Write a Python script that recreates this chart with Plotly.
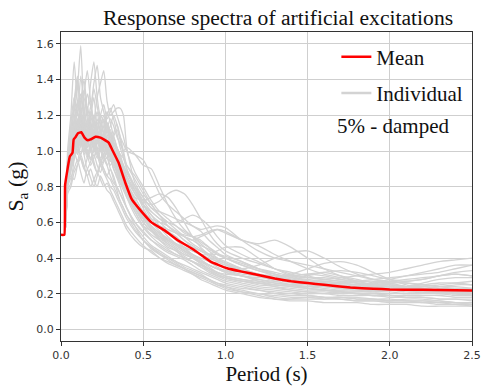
import plotly.graph_objects as go

# ---------------- data ----------------
periods = [0.0, 0.02, 0.04, 0.06, 0.08, 0.10, 0.12, 0.14, 0.16, 0.18, 0.20, 0.22, 0.24, 0.26,
           0.28, 0.30, 0.32, 0.34, 0.36, 0.38, 0.40, 0.45, 0.50, 0.55, 0.60, 0.65, 0.70, 0.75,
           0.80, 0.85, 0.90, 0.95, 1.00, 1.10, 1.20, 1.30, 1.40, 1.50, 1.60, 1.70, 1.80, 1.90,
           2.00, 2.10, 2.20, 2.30, 2.40, 2.50]

ind01 = [0.53,0.53,0.95,1.10,1.22,1.35,1.59,1.20,1.05,1.18,1.30,1.12,1.00,1.08,0.98,0.92,0.95,0.88,0.82,0.80,0.76,0.66,0.58,0.55,0.50,0.46,0.44,0.40,0.38,0.36,0.33,0.30,0.29,0.27,0.25,0.24,0.22,0.21,0.20,0.21,0.20,0.19,0.19,0.18,0.18,0.17,0.17,0.16]
ind02 = [0.53,0.53,0.85,0.92,1.00,1.05,1.12,1.20,1.32,1.25,1.38,1.48,1.30,1.22,1.15,1.10,1.05,1.02,0.98,0.92,0.88,0.80,0.72,0.66,0.62,0.58,0.55,0.52,0.50,0.47,0.45,0.42,0.40,0.36,0.33,0.31,0.29,0.28,0.27,0.26,0.25,0.24,0.24,0.23,0.23,0.24,0.25,0.25]
ind03 = [0.53,0.53,0.80,0.85,0.90,0.95,0.88,0.82,0.90,0.85,0.80,0.86,0.92,0.88,0.84,0.80,0.78,0.74,0.70,0.66,0.62,0.55,0.50,0.45,0.42,0.39,0.36,0.34,0.32,0.30,0.28,0.26,0.25,0.23,0.22,0.20,0.19,0.19,0.18,0.18,0.17,0.17,0.16,0.16,0.16,0.15,0.15,0.14]
ind04 = [0.53,0.53,0.90,1.00,1.12,1.08,1.15,1.02,1.10,1.25,1.18,1.30,1.38,1.45,1.28,1.20,1.22,1.24,1.24,1.20,1.02,0.82,0.74,0.68,0.64,0.60,0.58,0.54,0.52,0.50,0.46,0.42,0.40,0.37,0.34,0.32,0.30,0.29,0.29,0.28,0.27,0.27,0.26,0.27,0.28,0.30,0.32,0.33]
ind05 = [0.53,0.53,0.88,1.05,1.25,1.40,1.18,1.10,1.00,0.95,1.02,0.98,0.92,0.95,1.00,0.96,0.90,0.85,0.80,0.74,0.68,0.60,0.55,0.50,0.47,0.44,0.42,0.40,0.38,0.35,0.32,0.30,0.28,0.26,0.24,0.23,0.22,0.21,0.21,0.20,0.20,0.19,0.20,0.20,0.21,0.21,0.20,0.19]
ind06 = [0.53,0.53,0.92,0.95,1.02,1.00,0.98,1.04,1.00,0.96,1.00,1.05,1.10,1.02,1.08,1.12,1.05,1.00,0.96,0.92,0.88,0.80,0.74,0.68,0.66,0.64,0.62,0.60,0.58,0.56,0.57,0.58,0.57,0.50,0.44,0.40,0.38,0.36,0.34,0.32,0.30,0.28,0.27,0.26,0.25,0.24,0.24,0.23]
ind07 = [0.53,0.53,0.86,1.15,1.30,1.20,1.42,1.25,1.12,1.05,1.10,1.00,0.95,1.02,1.05,0.98,0.94,0.90,0.86,0.82,0.78,0.70,0.62,0.56,0.52,0.48,0.45,0.42,0.40,0.37,0.34,0.32,0.31,0.30,0.28,0.26,0.25,0.24,0.23,0.22,0.22,0.21,0.21,0.20,0.20,0.20,0.19,0.19]
ind08 = [0.53,0.53,0.78,0.82,0.95,1.02,1.08,0.98,0.90,0.94,0.98,0.92,0.88,0.94,0.96,0.90,0.86,0.80,0.76,0.72,0.68,0.58,0.50,0.46,0.42,0.40,0.38,0.35,0.33,0.31,0.28,0.25,0.23,0.21,0.20,0.18,0.17,0.17,0.17,0.18,0.18,0.17,0.16,0.16,0.15,0.15,0.14,0.14]
ind09 = [0.53,0.53,1.00,1.20,1.50,1.28,1.22,1.30,1.18,1.10,1.15,1.22,1.08,1.00,1.04,1.10,1.02,0.98,0.94,0.90,0.84,0.76,0.70,0.64,0.58,0.55,0.52,0.48,0.46,0.44,0.42,0.40,0.38,0.34,0.31,0.29,0.28,0.27,0.26,0.26,0.25,0.26,0.27,0.28,0.29,0.30,0.31,0.30]
ind10 = [0.53,0.53,0.84,0.90,0.96,1.12,1.05,1.00,1.08,1.15,1.05,0.98,1.02,1.10,1.05,1.00,1.08,1.12,1.06,0.98,0.90,0.78,0.68,0.60,0.55,0.50,0.48,0.46,0.44,0.42,0.40,0.38,0.36,0.34,0.36,0.40,0.43,0.44,0.40,0.35,0.31,0.28,0.26,0.24,0.23,0.22,0.21,0.20]
ind11 = [0.53,0.53,0.90,0.98,1.08,1.18,1.02,1.12,1.25,1.15,1.08,1.12,1.18,1.10,1.02,0.98,0.95,0.92,0.88,0.84,0.80,0.72,0.64,0.58,0.54,0.50,0.47,0.44,0.41,0.38,0.36,0.34,0.33,0.31,0.30,0.28,0.27,0.27,0.28,0.29,0.30,0.31,0.32,0.34,0.36,0.38,0.39,0.40]
ind12 = [0.53,0.53,0.82,0.95,1.05,1.00,1.20,1.08,1.02,1.12,1.20,1.10,1.02,0.96,1.00,1.05,1.10,1.15,1.08,1.00,0.92,0.86,0.78,0.70,0.64,0.58,0.54,0.50,0.47,0.44,0.41,0.38,0.36,0.33,0.31,0.30,0.30,0.31,0.32,0.30,0.28,0.26,0.25,0.24,0.24,0.25,0.26,0.27]
ind13 = [0.53,0.53,0.76,0.80,0.88,0.92,0.96,0.90,0.86,0.80,0.84,0.88,0.84,0.80,0.82,0.78,0.74,0.70,0.66,0.62,0.58,0.52,0.47,0.43,0.40,0.37,0.35,0.33,0.31,0.29,0.27,0.25,0.24,0.22,0.20,0.19,0.18,0.18,0.17,0.17,0.16,0.16,0.15,0.15,0.15,0.14,0.14,0.13]
ind14 = [0.53,0.53,0.88,1.02,1.15,1.25,1.32,1.18,1.10,1.20,1.35,1.25,1.15,1.05,1.00,1.02,0.96,0.90,0.85,0.80,0.76,0.68,0.62,0.60,0.58,0.56,0.54,0.53,0.52,0.53,0.55,0.56,0.54,0.50,0.47,0.42,0.38,0.34,0.31,0.29,0.27,0.25,0.24,0.23,0.22,0.22,0.21,0.21]
ind15 = [0.53,0.53,0.94,1.08,1.00,1.10,1.28,1.40,1.22,1.08,1.02,1.08,1.14,1.20,1.12,1.05,1.00,0.95,0.90,0.86,0.82,0.72,0.63,0.56,0.52,0.49,0.46,0.43,0.40,0.37,0.34,0.31,0.29,0.27,0.26,0.25,0.24,0.23,0.22,0.21,0.21,0.22,0.23,0.23,0.22,0.21,0.20,0.19]
ind16 = [0.53,0.53,0.86,0.96,1.10,1.22,1.10,1.04,0.98,1.04,1.12,1.02,0.96,1.04,1.20,1.24,1.18,1.10,1.02,0.96,0.90,0.80,0.70,0.62,0.57,0.52,0.48,0.44,0.41,0.38,0.35,0.32,0.30,0.28,0.26,0.24,0.23,0.22,0.22,0.21,0.21,0.21,0.22,0.24,0.26,0.28,0.29,0.29]
ind17 = [0.53,0.53,0.90,1.02,0.96,1.08,1.15,1.10,1.02,1.08,1.14,1.06,1.12,1.18,1.10,1.14,1.20,1.15,1.08,1.04,1.00,0.98,0.95,0.86,0.76,0.70,0.66,0.62,0.58,0.55,0.50,0.46,0.42,0.38,0.34,0.31,0.29,0.27,0.26,0.25,0.24,0.24,0.23,0.22,0.22,0.21,0.20,0.20]
ind18 = [0.53,0.53,0.84,0.92,1.04,1.12,1.06,0.98,1.04,1.10,1.02,0.96,1.00,1.06,1.02,0.98,1.00,0.96,0.92,0.88,0.84,0.78,0.72,0.70,0.72,0.76,0.78,0.76,0.70,0.62,0.54,0.48,0.44,0.40,0.37,0.34,0.31,0.29,0.28,0.27,0.26,0.25,0.24,0.23,0.22,0.22,0.21,0.21]
ind19 = [0.53,0.53,0.82,0.88,1.00,0.94,1.04,1.10,0.98,0.92,0.96,1.02,0.94,0.90,0.86,0.90,0.84,0.78,0.72,0.68,0.64,0.56,0.50,0.46,0.43,0.40,0.37,0.34,0.31,0.28,0.26,0.24,0.22,0.20,0.18,0.17,0.16,0.16,0.15,0.15,0.15,0.14,0.14,0.14,0.13,0.13,0.13,0.13]
ind20 = [0.53,0.53,0.86,0.94,1.06,1.16,1.26,1.34,1.22,1.38,1.50,1.30,1.18,1.10,1.14,1.06,1.00,0.96,0.92,0.88,0.82,0.72,0.64,0.60,0.58,0.54,0.50,0.46,0.42,0.39,0.36,0.34,0.33,0.32,0.30,0.29,0.30,0.31,0.30,0.28,0.26,0.24,0.23,0.22,0.21,0.21,0.20,0.20]
ind21 = [0.53,0.53,0.88,0.98,1.10,1.04,0.98,1.06,1.16,1.08,1.00,1.06,1.12,1.04,0.98,1.04,1.08,1.02,0.96,0.90,0.86,0.76,0.70,0.64,0.60,0.56,0.54,0.52,0.50,0.52,0.54,0.56,0.55,0.50,0.48,0.50,0.46,0.40,0.34,0.30,0.27,0.25,0.24,0.24,0.25,0.26,0.26,0.25]
ind22 = [0.53,0.53,0.92,1.04,1.18,1.28,1.16,1.06,1.12,1.20,1.10,1.04,1.08,1.14,1.22,1.16,1.08,1.02,0.98,0.96,0.92,0.84,0.76,0.70,0.64,0.60,0.56,0.52,0.48,0.45,0.42,0.39,0.37,0.33,0.30,0.28,0.26,0.25,0.25,0.26,0.27,0.28,0.29,0.30,0.31,0.32,0.34,0.36]
ind23 = [0.53,0.53,0.86,0.96,1.02,1.10,1.20,1.12,1.06,1.00,1.08,1.16,1.10,1.04,1.12,1.18,1.14,1.08,1.04,1.00,1.02,0.98,0.92,0.90,0.80,0.70,0.62,0.56,0.52,0.48,0.44,0.40,0.37,0.34,0.31,0.29,0.27,0.25,0.24,0.23,0.22,0.22,0.22,0.21,0.21,0.20,0.20,0.19]
ind24 = [0.53,0.53,0.80,0.86,0.84,0.92,0.98,0.92,0.86,0.90,0.84,0.80,0.86,0.82,0.78,0.76,0.72,0.68,0.64,0.60,0.56,0.50,0.46,0.44,0.40,0.38,0.36,0.34,0.32,0.30,0.28,0.26,0.24,0.21,0.19,0.17,0.17,0.18,0.18,0.17,0.16,0.16,0.16,0.17,0.17,0.16,0.15,0.15]
ind25 = [0.53,0.53,0.90,1.00,1.12,1.22,1.30,1.18,1.08,1.02,1.10,1.18,1.08,1.00,0.96,1.00,0.94,0.88,0.84,0.80,0.76,0.68,0.60,0.55,0.51,0.48,0.45,0.42,0.40,0.38,0.36,0.34,0.32,0.30,0.29,0.29,0.31,0.34,0.37,0.38,0.36,0.32,0.28,0.25,0.23,0.22,0.21,0.21]
ind26 = [0.53,0.53,0.84,0.90,0.98,1.08,1.14,1.04,0.98,1.04,1.10,1.00,0.94,0.98,1.04,0.98,0.92,0.88,0.84,0.80,0.78,0.74,0.72,0.74,0.76,0.74,0.68,0.60,0.52,0.46,0.42,0.39,0.37,0.33,0.30,0.27,0.25,0.23,0.22,0.22,0.23,0.24,0.25,0.24,0.23,0.22,0.22,0.22]
ind27 = [0.53,0.53,0.92,1.08,1.16,1.26,1.20,1.32,1.45,1.28,1.16,1.10,1.20,1.16,1.06,1.02,0.98,0.94,0.90,0.86,0.80,0.70,0.62,0.57,0.53,0.50,0.47,0.44,0.42,0.40,0.38,0.35,0.33,0.30,0.27,0.25,0.24,0.23,0.22,0.21,0.20,0.20,0.19,0.19,0.19,0.19,0.18,0.18]
ind28 = [0.53,0.53,0.86,0.94,1.04,0.98,1.08,1.16,1.06,1.00,1.06,1.12,1.04,0.98,1.02,0.96,0.90,0.86,0.82,0.78,0.74,0.66,0.58,0.53,0.50,0.47,0.44,0.41,0.38,0.35,0.33,0.31,0.29,0.27,0.26,0.25,0.25,0.26,0.27,0.26,0.25,0.26,0.28,0.30,0.32,0.34,0.36,0.36]
ind29 = [0.53,0.53,0.88,0.96,1.10,1.18,1.08,1.00,1.06,1.14,1.06,1.00,1.04,1.10,1.16,1.10,1.04,1.00,0.94,0.88,0.82,0.74,0.66,0.62,0.60,0.58,0.54,0.50,0.46,0.44,0.42,0.42,0.41,0.38,0.34,0.31,0.28,0.26,0.25,0.24,0.24,0.23,0.23,0.22,0.22,0.22,0.21,0.21]
ind30 = [0.53,0.53,0.82,0.90,0.96,1.04,0.96,0.90,0.96,1.02,0.94,0.88,0.92,0.98,0.92,0.86,0.82,0.80,0.76,0.72,0.68,0.60,0.54,0.50,0.46,0.43,0.41,0.39,0.36,0.33,0.31,0.29,0.27,0.25,0.23,0.22,0.21,0.20,0.20,0.19,0.19,0.19,0.18,0.18,0.18,0.17,0.17,0.17]
ind31 = [0.53,0.53,0.90,0.98,1.06,1.14,1.22,1.12,1.04,1.10,1.16,1.08,1.02,1.08,1.14,1.08,1.02,0.98,0.94,0.90,0.86,0.78,0.70,0.66,0.62,0.60,0.60,0.62,0.64,0.62,0.58,0.52,0.47,0.42,0.38,0.34,0.32,0.30,0.28,0.27,0.26,0.25,0.25,0.24,0.24,0.23,0.23,0.22]
ind32 = [0.53,0.53,0.86,0.92,1.00,1.06,1.12,1.06,1.00,0.96,1.02,1.08,1.02,0.96,0.92,0.96,1.00,0.94,0.88,0.82,0.78,0.68,0.60,0.55,0.52,0.50,0.48,0.46,0.44,0.42,0.42,0.44,0.46,0.46,0.40,0.34,0.30,0.27,0.25,0.24,0.24,0.25,0.26,0.26,0.25,0.24,0.23,0.23]
ind33 = [0.53,0.53,0.94,1.12,1.28,1.42,1.20,1.04,0.96,1.00,0.92,0.88,0.94,0.90,0.86,0.84,0.80,0.76,0.72,0.68,0.64,0.58,0.52,0.47,0.44,0.41,0.38,0.36,0.34,0.32,0.30,0.28,0.26,0.24,0.22,0.21,0.20,0.19,0.18,0.18,0.17,0.17,0.17,0.16,0.16,0.16,0.15,0.15]
ind34 = [0.53,0.53,0.88,0.94,1.02,1.10,1.04,1.10,1.18,1.12,1.06,1.12,1.20,1.26,1.18,1.22,1.26,1.20,1.14,1.08,1.00,0.88,0.80,0.72,0.66,0.62,0.58,0.55,0.52,0.49,0.46,0.43,0.40,0.36,0.33,0.30,0.28,0.27,0.26,0.25,0.24,0.23,0.22,0.22,0.21,0.21,0.20,0.20]
ind35 = [0.53,0.53,0.86,0.96,1.08,1.16,1.10,1.04,1.12,1.22,1.14,1.06,1.00,1.04,1.08,1.02,0.96,0.90,0.86,0.82,0.78,0.70,0.63,0.58,0.54,0.51,0.48,0.45,0.42,0.39,0.36,0.34,0.32,0.30,0.28,0.27,0.28,0.30,0.32,0.33,0.32,0.30,0.28,0.27,0.28,0.30,0.31,0.30]
ind36 = [0.53,0.53,0.84,0.92,1.04,1.14,1.24,1.14,1.06,1.12,1.04,0.98,1.02,1.08,1.00,0.94,0.98,0.92,0.86,0.80,0.74,0.64,0.57,0.52,0.48,0.45,0.42,0.40,0.38,0.36,0.34,0.32,0.30,0.28,0.27,0.26,0.25,0.24,0.24,0.23,0.23,0.22,0.22,0.22,0.21,0.21,0.21,0.21]

individual_curves = [ind01, ind02, ind03, ind04, ind05, ind06, ind07, ind08, ind09,
                     ind10, ind11, ind12, ind13, ind14, ind15, ind16, ind17, ind18,
                     ind19, ind20, ind21, ind22, ind23, ind24, ind25, ind26, ind27,
                     ind28, ind29, ind30, ind31, ind32, ind33, ind34, ind35, ind36]

mean_periods = [0.0, 0.02, 0.025, 0.04, 0.054, 0.07, 0.077, 0.09, 0.103, 0.123, 0.143, 0.163,
                0.18, 0.21, 0.24, 0.26, 0.29, 0.31, 0.35, 0.39, 0.43, 0.49, 0.55, 0.63, 0.71,
                0.81, 0.91, 1.01, 1.10, 1.20, 1.30, 1.40, 1.50, 1.60, 1.76, 1.90, 2.00, 2.20,
                2.40, 2.50]
mean_sa = [0.53, 0.53, 0.81, 0.90, 0.97, 0.99, 1.065, 1.08, 1.10, 1.105, 1.075, 1.06,
           1.065, 1.08, 1.075, 1.065, 1.047, 1.01, 0.935, 0.825, 0.73, 0.66, 0.60, 0.555,
           0.50, 0.445, 0.38, 0.343, 0.324, 0.305, 0.285, 0.27, 0.26, 0.25, 0.235, 0.228,
           0.224, 0.222, 0.22, 0.218]

x_ticks = [0.0, 0.5, 1.0, 1.5, 2.0, 2.5]
y_ticks = [0.0, 0.2, 0.4, 0.6, 0.8, 1.0, 1.2, 1.4, 1.6]

# ---------------- figure ----------------
fig = go.Figure()
for curve in individual_curves:
    fig.add_trace(go.Scatter(
        x=periods, y=curve, mode="lines", name="Individual",
        line=dict(color="#d3d3d3", width=1.3, shape="spline", smoothing=0.6),
        showlegend=False, hoverinfo="skip"))

fig.add_trace(go.Scatter(
    x=mean_periods, y=mean_sa, mode="lines", name="Mean",
    line=dict(color="#ff0000", width=2.5, shape="spline", smoothing=0.3),
    legendgroup="mean", legendrank=1))

# legend-only entry for the individual spectra (no marks drawn)
fig.add_trace(go.Scatter(
    x=[None], y=[None], mode="lines", name="Individual",
    line=dict(color="#d3d3d3", width=2.5), legendgroup="ind", legendrank=2))

serif = "Liberation Serif, Times New Roman, serif"
tickfont = dict(family="DejaVu Sans", size=11, color="#333333")

fig.update_layout(
    width=487, height=387,
    margin=dict(l=61, r=6, t=32, b=44),
    paper_bgcolor="white", plot_bgcolor="white",
    title=dict(text="Response spectra of artificial excitations",
               font=dict(family=serif, size=21.6, color="#111111"),
               x=278 / 487, xanchor="center", y=1 - 17 / 387, yanchor="middle"),
    xaxis=dict(range=[0, 2.5], tickvals=x_ticks, ticktext=[f"{v:.1f}" for v in x_ticks],
               ticklabeloverflow="allow",
               showgrid=True, gridcolor="#cfcfcf", gridwidth=1, zeroline=False,
               showline=True, linecolor="#333333", linewidth=1, mirror=True,
               ticks="outside", ticklen=4, tickcolor="#333333", tickfont=tickfont,
               title=dict(text="Period (s)", font=dict(family=serif, size=21, color="#111111"),
                          standoff=4)),
    yaxis=dict(range=[-0.065, 1.667], tickvals=y_ticks, ticktext=[f"{v:.1f}" for v in y_ticks],
               showgrid=True, gridcolor="#cfcfcf", gridwidth=1, zeroline=False,
               showline=True, linecolor="#333333", linewidth=1, mirror=True,
               ticks="outside", ticklen=4, tickcolor="#333333", tickfont=tickfont,
               title=dict(text="S<sub>a</sub> (g)", font=dict(family=serif, size=22, color="#111111"),
                          standoff=6)),
    legend=dict(x=0.67, y=0.985, xanchor="left", yanchor="top",
                bgcolor="rgba(0,0,0,0)", borderwidth=0,
                font=dict(family=serif, size=21, color="#111111"),
                tracegroupgap=6, traceorder="grouped"),
    showlegend=True,
)

fig.add_annotation(text="5% - damped", xref="paper", yref="paper",
                   x=(400.5 - 61) / 420, y=(343.3 - 126.7) / 311.6,
                   xanchor="center", yanchor="middle", showarrow=False,
                   font=dict(family=serif, size=21, color="#111111"))

fig.write_html("out.html")
